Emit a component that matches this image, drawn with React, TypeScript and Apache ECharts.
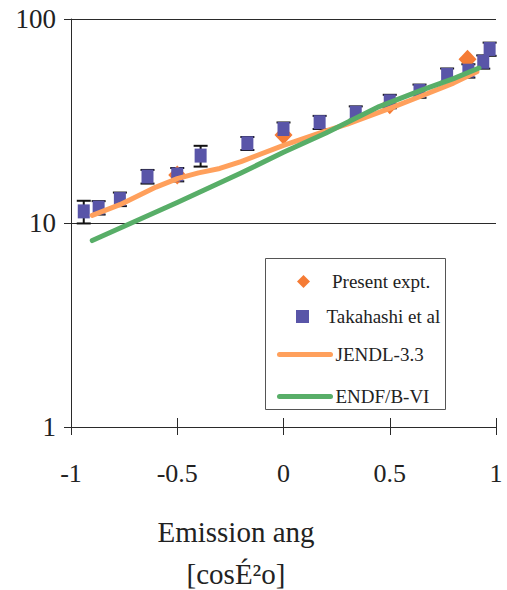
import React, { useEffect, useRef } from 'react';
import * as echarts from 'echarts';

// Takahashi et al (squares with error bars)
const takahashiX = [-0.94, -0.87, -0.77, -0.64, -0.5, -0.39, -0.17, 0, 0.17, 0.34, 0.5, 0.64, 0.77, 0.87, 0.94, 0.97];
const takahashiY = [11.4, 11.9, 13.1, 16.9, 17.3, 21.4, 24.6, 28.9, 31.2, 34.7, 39.5, 44.4, 53.2, 55.8, 61.7, 71.3];
const takahashiErr = [1.45, 0.9, 1.0, 1.3, 1.3, 2.5, 1.8, 2.2, 2.3, 2.6, 3.0, 3.3, 4.0, 4.2, 4.6, 5.3];

// Present experiment (diamonds)
const presentX = [-0.5, 0, 0.5, 0.866];
const presentY = [17.2, 27.0, 38.0, 63.4];

// JENDL-3.3 curve
const jendlX = [-0.9, -0.77, -0.6, -0.5, -0.4, -0.3, -0.2, 0, 0.2, 0.3, 0.5, 0.64, 0.8, 0.91];
const jendlY = [10.9, 12.3, 15.0, 16.5, 17.6, 18.5, 20.0, 24.0, 28.3, 30.5, 36.5, 41.6, 48.5, 55.2];

// ENDF/B-VI curve
const endfX = [-0.9, -0.5, -0.2, 0, 0.2, 0.45, 0.65, 0.8, 0.92];
const endfY = [8.2, 12.6, 17.6, 22.2, 27.6, 37.2, 44.8, 51.0, 57.5];

const xTickLabels = ['-1', '-0.5', '0', '0.5', '1'];
const xNameLines = ['Emission ang', '[cosÉ²o]'];
const legendNames = ['Present expt.', 'Takahashi et al', 'JENDL-3.3', 'ENDF/B-VI'];

const FONT = 'Liberation Serif, serif';
const AXIS_COLOR = '#2a2a2a';
const TEXT_COLOR = '#222222';

const COLORS = {
  present: '#F57B35',
  takahashi: '#5955A8',
  jendl: '#FFA05C',
  endf: '#58AE68',
};

export default function App() {
  const ref = useRef<HTMLDivElement>(null);

  useEffect(() => {
    if (!ref.current) return;
    const chart = echarts.init(ref.current, null, { renderer: 'svg' });

    const zip = (xs: number[], ys: number[]) => xs.map((x, i) => [x, ys[i]]);

    // one legend component per entry, so each can sit where the reference puts it
    const legendItems: any[] = [
      { item: { name: legendNames[0], icon: 'path://M1,0L2,1L1,2L0,1Z' }, left: 297, top: 272, w: 47 },
      { item: { name: legendNames[1], icon: 'path://M0,0H1V1H0Z' }, left: 296, top: 307, w: 38 },
      { item: { name: legendNames[2], itemStyle: { opacity: 0 } }, left: 277, top: 345, w: 51 },
      { item: { name: legendNames[3], itemStyle: { opacity: 0 } }, left: 277, top: 387, w: 51 },
    ];
    const legends = legendItems.map((l) => ({
      data: [l.item],
      left: l.left,
      top: l.top,
      padding: 0,
      itemWidth: l.w,
      itemHeight: 13,
      itemGap: 0,
      symbolKeepAspect: true,
      selectedMode: false,
      lineStyle: { width: 5, cap: 'round' },
      textStyle: { fontFamily: FONT, fontSize: 19, color: TEXT_COLOR },
    }));

    const option: any = {
      animation: false,
      backgroundColor: '#ffffff',
      textStyle: { fontFamily: FONT },
      grid: { left: 71, right: 11, top: 19, bottom: 163, containLabel: false },
      legend: legends,
      xAxis: [
        {
          type: 'value',
          min: -1,
          max: 1,
          interval: 0.5,
          axisLine: { show: true, onZero: false, lineStyle: { color: AXIS_COLOR, width: 1 } },
          axisTick: { show: true, inside: false, length: 8, lineStyle: { color: AXIS_COLOR, width: 1 } },
          axisLabel: {
            show: true,
            margin: 33,
            fontFamily: FONT,
            fontSize: 26,
            color: TEXT_COLOR,
            formatter: (v: number) => {
              const idx = Math.round((v + 1) / 0.5);
              return xTickLabels[idx] ?? String(v);
            },
          },
          splitLine: { show: false },
        },
        {
          type: 'value',
          min: -1,
          max: 1,
          interval: 0.5,
          position: 'bottom',
          axisLine: { show: false, onZero: false },
          axisTick: { show: true, inside: true, length: 9, lineStyle: { color: AXIS_COLOR, width: 1 } },
          axisLabel: { show: false },
          splitLine: { show: false },
        },
      ],
      yAxis: {
        type: 'log',
        logBase: 10,
        min: 1,
        max: 100,
        axisLine: { show: true, onZero: false, lineStyle: { color: AXIS_COLOR, width: 1 } },
        axisTick: { show: true, inside: false, length: 7, lineStyle: { color: AXIS_COLOR, width: 1 } },
        axisLabel: { show: true, margin: 15, fontFamily: FONT, fontSize: 27, color: TEXT_COLOR },
        splitLine: { show: true, lineStyle: { color: AXIS_COLOR, width: 1 } },
        minorTick: { show: false },
      },
      graphic: [
        {
          type: 'rect',
          shape: { x: 265.5, y: 258.5, width: 180, height: 151 },
          style: { fill: 'none', stroke: '#555', lineWidth: 1 },
          z: 0,
        },
        {
          type: 'text',
          x: 236,
          y: 532,
          style: { text: xNameLines[0], fontFamily: FONT, fontSize: 29, fill: TEXT_COLOR, align: 'center', verticalAlign: 'middle' },
        },
        {
          type: 'text',
          x: 236,
          y: 574,
          style: { text: xNameLines[1], fontFamily: FONT, fontSize: 29, fill: TEXT_COLOR, align: 'center', verticalAlign: 'middle' },
        },
      ],
      series: [
        {
          name: 'JENDL-3.3',
          type: 'line',
          data: zip(jendlX, jendlY),
          symbol: 'none',
          smooth: false,
          lineStyle: { color: COLORS.jendl, width: 5, cap: 'round', join: 'round' },
          itemStyle: { color: COLORS.jendl },
        },
        {
          name: 'ENDF/B-VI',
          type: 'line',
          data: zip(endfX, endfY),
          symbol: 'none',
          smooth: false,
          lineStyle: { color: COLORS.endf, width: 5, cap: 'round', join: 'round' },
          itemStyle: { color: COLORS.endf },
        },
        {
          name: 'Present expt.',
          type: 'scatter',
          data: zip(presentX, presentY),
          symbol: 'diamond',
          symbolSize: [18, 19],
          itemStyle: { color: COLORS.present, opacity: 1 },
        },
        {
          type: 'custom',
          name: 'errors',
          data: takahashiX.map((x, i) => [x, takahashiY[i], takahashiErr[i]]),
          encode: { x: 0, y: 1 },
          renderItem: (params: any, api: any) => {
            const x = api.value(0) as number;
            const y = api.value(1) as number;
            const e = api.value(2) as number;
            const top = api.coord([x, y + e]);
            const bot = api.coord([x, y - e]);
            const w = 7;
            const style = { stroke: '#111', lineWidth: 2 };
            return {
              type: 'group',
              children: [
                { type: 'line', shape: { x1: top[0], y1: top[1], x2: bot[0], y2: bot[1] }, style },
                { type: 'line', shape: { x1: top[0] - w, y1: top[1], x2: top[0] + w, y2: top[1] }, style },
                { type: 'line', shape: { x1: bot[0] - w, y1: bot[1], x2: bot[0] + w, y2: bot[1] }, style },
              ],
            };
          },
        },
        {
          name: 'Takahashi et al',
          type: 'scatter',
          data: zip(takahashiX, takahashiY),
          symbol: 'rect',
          symbolSize: [12, 14],
          itemStyle: { color: COLORS.takahashi, opacity: 1 },
        },
      ],
    };

    chart.setOption(option);
    return () => chart.dispose();
  }, []);

  return (
    <div
      ref={ref}
      style={{ position: 'fixed', left: 0, top: 0, width: 507, height: 590, background: '#fff' }}
    />
  );
}
